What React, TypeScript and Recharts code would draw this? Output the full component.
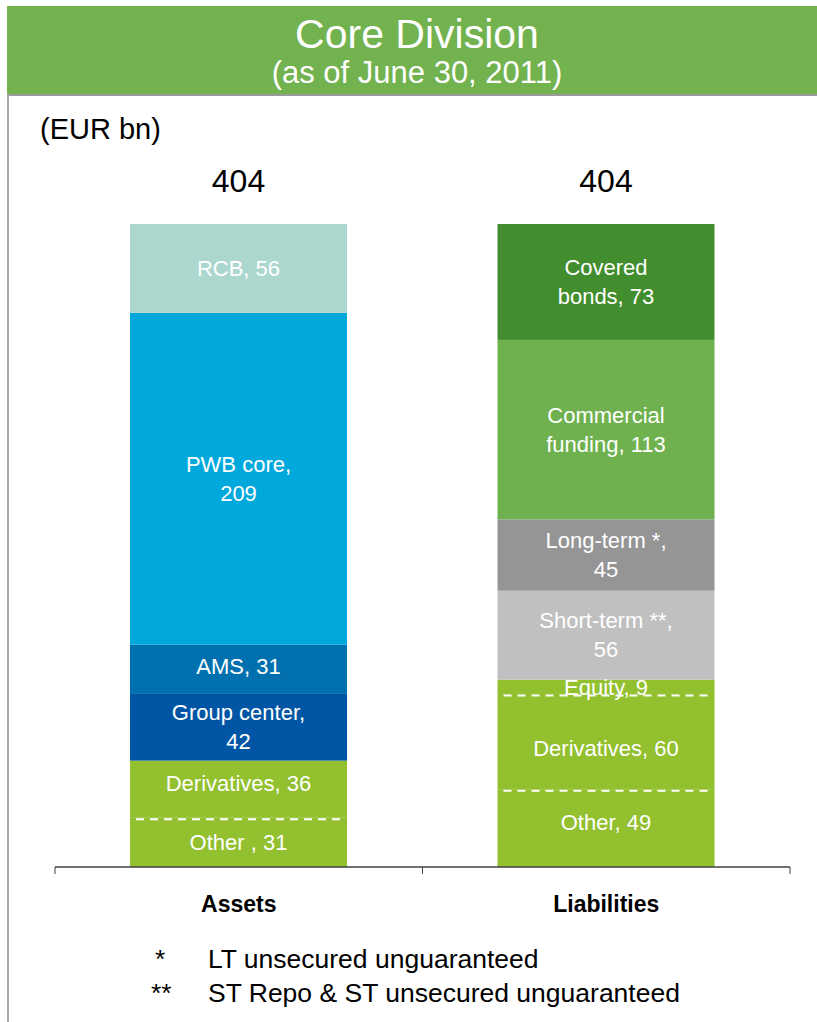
import React from 'react';
import { BarChart, Bar, XAxis, YAxis, LabelList } from 'recharts';

// ---------- data ----------
const categories = ['Assets', 'Liabilities'];
const totals = [404, 404];

// stacked bottom -> top
const assetNames = ['Other , 31', 'Derivatives, 36', 'Group center,\n42', 'AMS, 31', 'PWB core,\n209', 'RCB, 56'];
const assetValues = [31, 36, 42, 31, 209, 56];
const assetColors = ['#92c02f', '#92c02f', '#0056a4', '#0071ae', '#00a8dc', '#acd7cf'];

const liabNames = ['Other, 49', 'Derivatives, 60', 'Equity, 9', 'Short-term **,\n56', 'Long-term *,\n45', 'Commercial\nfunding, 113', 'Covered\nbonds, 73'];
const liabValues = [49, 60, 9, 56, 45, 113, 73];
const liabColors = ['#92c02f', '#92c02f', '#92c02f', '#c0c0c0', '#959595', '#6fb14f', '#428e2e'];

// segments whose top edge carries a dashed separator
const assetDashed = [true, false, false, false, false, false];
const liabDashed = [true, true, false, false, false, false, false];
const assetLabelDy = [0, -6, 0, -3, 0, 0];
const liabLabelDy = [-6, 7, 0, 0, 0, 0, 0];

const yMax = 405;

type Series = { key: string; cat: number; name: string; color: string; dashed: boolean; dy: number; top: boolean };
const series: Series[] = [];
assetValues.forEach((_, i) =>
  series.push({ key: 'a' + i, cat: 0, name: assetNames[i], color: assetColors[i], dashed: assetDashed[i], dy: assetLabelDy[i], top: i === assetValues.length - 1 })
);
liabValues.forEach((_, i) =>
  series.push({ key: 'l' + i, cat: 1, name: liabNames[i], color: liabColors[i], dashed: liabDashed[i], dy: liabLabelDy[i], top: i === liabValues.length - 1 })
);

const data = categories.map((c, ci) => {
  const row: Record<string, any> = { category: c };
  if (ci === 0) assetValues.forEach((v, i) => (row['a' + i] = v));
  else liabValues.forEach((v, i) => (row['l' + i] = v));
  return row;
});

// ---------- layout ----------
const W = 817;
const H = 1022;
const CH = 960;
const M = { top: 224, right: 27, left: 55, bottom: 0 };
const XH = CH - 867;
const band = (W - M.left - M.right) / categories.length;
const FONT = '"Liberation Sans", Arial, sans-serif';

const makeShape = (s: Series) => (props: any) => {
  const { x, y, width, height } = props;
  if (!height || height <= 0) return <g />;
  return (
    <g>
      <rect x={x} y={y} width={width} height={height} fill={s.color} />
      {s.dashed && (
        <line x1={x + 6} x2={x + width - 6} y1={y + 1.5} y2={y + 1.5} stroke="#ffffff" strokeWidth={2} strokeDasharray="8 6" />
      )}
    </g>
  );
};

const makeLabel = (s: Series) => (props: any) => {
  const { x, y, width, height, value, index } = props;
  if (index !== s.cat || value == null) return null;
  const lines = s.name.split('\n');
  const cx = x + width / 2;
  const cy = y + height / 2 + s.dy;
  const lh = 29;
  const start = cy - ((lines.length - 1) * lh) / 2;
  return (
    <text x={cx} textAnchor="middle" fill="#ffffff" fontSize={22} fontFamily={FONT}>
      {lines.map((l, i) => (
        <tspan key={i} x={cx} y={start + i * lh} dy="0.35em">
          {l}
        </tspan>
      ))}
    </text>
  );
};

const makeTotal = (s: Series) => (props: any) => {
  const { x, y, width, index } = props;
  if (index !== s.cat) return null;
  return (
    <text x={x + width / 2} y={y - 32} textAnchor="middle" fill="#000000" fontSize={32} fontFamily={FONT}>
      {totals[s.cat]}
    </text>
  );
};

const CatTick = (props: any) => {
  const { x, y, payload, index } = props;
  const top = y - 8;
  return (
    <g>
      <line x1={x - band / 2} x2={x - band / 2} y1={top} y2={top + 7} stroke="#404040" strokeWidth={1} />
      {index === categories.length - 1 && (
        <line x1={x + band / 2} x2={x + band / 2} y1={top} y2={top + 7} stroke="#404040" strokeWidth={1} />
      )}
      <text x={x} y={top + 45} textAnchor="middle" fontSize={23} fontWeight="bold" fill="#000000" fontFamily={FONT}>
        {payload.value}
      </text>
    </g>
  );
};

export default function App() {
  return (
    <div style={{ position: 'relative', width: W, height: H, background: '#ffffff', overflow: 'hidden', fontFamily: FONT }}>
      <style>{'body{margin:0}'}</style>
      <svg width={W} height={H} style={{ position: 'absolute', left: 0, top: 0 }}>
        <rect x={7} y={6} width={W - 7} height={88} fill="#72b24f" />
        <rect x={7} y={94} width={W - 7} height={2} fill="#9a9a9a" />
        <rect x={7} y={94} width={2} height={H - 94} fill="#a8a8a8" />
        <text x={417} y={48} textAnchor="middle" fill="#ffffff" fontSize={41} fontFamily={FONT}>
          Core Division
        </text>
        <text x={417} y={83} textAnchor="middle" fill="#ffffff" fontSize={31} fontFamily={FONT}>
          (as of June 30, 2011)
        </text>
        <text x={40} y={139} fill="#000000" fontSize={29} fontFamily={FONT}>
          (EUR bn)
        </text>
        <text x={155} y={968} fill="#000000" fontSize={26.5} fontFamily={FONT}>*</text>
        <text x={208} y={968} fill="#000000" fontSize={26.5} fontFamily={FONT}>LT unsecured unguaranteed</text>
        <text x={151} y={1002} fill="#000000" fontSize={26.5} fontFamily={FONT}>**</text>
        <text x={208} y={1002} fill="#000000" fontSize={26.5} fontFamily={FONT}>ST Repo &amp; ST unsecured unguaranteed</text>
      </svg>
      <div style={{ position: 'absolute', left: 0, top: 0 }}>
        <BarChart width={W} height={CH} data={data} margin={M} barSize={217}>
          <XAxis
            dataKey="category"
            height={XH}
            axisLine={{ stroke: '#404040', strokeWidth: 1.5 }}
            tickLine={false}
            tick={<CatTick />}
            interval={0}
          />
          <YAxis hide domain={[0, yMax]} />
          {series.map((s) => (
            <Bar key={s.key} dataKey={s.key} stackId="s" fill={s.color} isAnimationActive={false} shape={makeShape(s)}>
              <LabelList dataKey={s.key} content={makeLabel(s)} />
              {s.top && <LabelList dataKey={s.key} content={makeTotal(s)} />}
            </Bar>
          ))}
        </BarChart>
      </div>
    </div>
  );
}
